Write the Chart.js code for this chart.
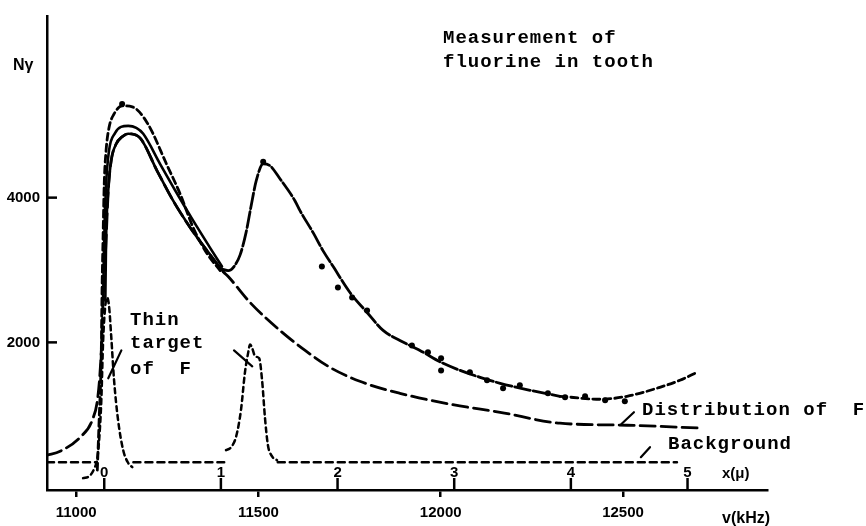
<!DOCTYPE html>
<html>
<head>
<meta charset="utf-8">
<script src="https://cdn.jsdelivr.net/npm/chart.js@4.4.1/dist/chart.umd.min.js"></script>
<style>
html,body{margin:0;padding:0;background:#fff;}
canvas{display:block;}
</style>
</head>
<body>
<canvas id="c" width="866" height="526"></canvas>
<script>
// ---- tick values ----
const xTickValues = [11000, 11500, 12000, 12500];
const yTickValues = [2000, 4000];
const muTickValues = [0, 1, 2, 3, 4, 5];
const muOriginKHz = 11077;
const muStepKHz = 320;

// ---- series (x in kHz, y in Nγ counts) ----
const distFX = [10920, 10956, 11011, 11044, 11060, 11069, 11074, 11082, 11088, 11096, 11110, 11126, 11143, 11175, 11222, 11266, 11313, 11359, 11403, 11417, 11477, 11559, 11628, 11696, 11778, 11888, 12026, 12163, 12327, 12511, 12719];
const distFY = [441, 496, 690, 924, 1269, 1889, 2579, 3406, 4096, 4509, 4744, 4840, 4882, 4826, 4371, 3958, 3585, 3268, 2979, 2910, 2551, 2165, 1889, 1655, 1462, 1296, 1145, 1034, 883, 855, 814];

const envelopeX = [11058, 11063, 11069, 11071, 11074, 11077, 11082, 11090, 11104, 11126, 11154, 11195, 11250, 11285, 11321, 11359, 11395];
const envelopeY = [234, 924, 1889, 2717, 3503, 4192, 4647, 4964, 5157, 5268, 5254, 5033, 4440, 4054, 3585, 3227, 2992];

const fitAX = [11074, 11077, 11082, 11090, 11107, 11123, 11143, 11165, 11184, 11230, 11277, 11321, 11367, 11400];
const fitAY = [2579, 3406, 4165, 4647, 4895, 4978, 4992, 4964, 4882, 4468, 4054, 3682, 3310, 3048];

const fitBX = [11080, 11082, 11088, 11096, 11110, 11126, 11143, 11175, 11222, 11266, 11313, 11359, 11403];
const fitBY = [2579, 3406, 4096, 4509, 4744, 4840, 4882, 4826, 4371, 3958, 3585, 3268, 2979];

const measuredX = [11395, 11417, 11433, 11450, 11466, 11480, 11494, 11513, 11532, 11559, 11600, 11614, 11650, 11677, 11705, 11751, 11798, 11842, 11888, 11943, 12001, 12053, 12108, 12163, 12245, 12327];
const measuredY = [3020, 2992, 3048, 3213, 3516, 3889, 4234, 4468, 4440, 4261, 3958, 3820, 3516, 3268, 3048, 2689, 2413, 2165, 2027, 1889, 1724, 1613, 1517, 1434, 1338, 1255];

const tailX = [12327, 12437, 12511, 12601, 12656, 12703];
const tailY = [1255, 1214, 1255, 1379, 1476, 1586];

const dotsX = [11126, 11513, 11674, 11718, 11757, 11798, 11921, 11965, 12001, 12001, 12080, 12127, 12171, 12217, 12294, 12341, 12396, 12451, 12505];
const dotsY = [5295, 4496, 3048, 2758, 2620, 2441, 1958, 1862, 1779, 1613, 1586, 1476, 1365, 1407, 1296, 1241, 1255, 1200, 1186];

const thinX = [11019, 11036, 11049, 11058, 11063, 11069, 11074, 11080, 11085, 11090, 11096, 11104, 11115, 11129, 11143, 11154, 11280, 11411, 11425, 11439, 11452, 11463, 11472, 11477, 11483, 11491, 11502, 11510, 11518, 11526, 11537, 11551];
const thinY = [124, 152, 248, 400, 648, 1200, 2027, 2510, 2620, 2510, 2096, 1476, 924, 510, 331, 276, null, 510, 552, 703, 1062, 1586, 1862, 1972, 1917, 1806, 1779, 1476, 952, 579, 427, 372];

const bgX = [10920, 11057, 11090, 11157, 11406, 11480, 11553, 12648];
const bgY = [345, 345, null, 345, 345, null, 345, 345];

const leaderX = [11088, 11124, 11300, 11433, 11483, 12000, 12495, 12530, 12540, 12549, 12574];
const leaderY = [1503, 1889, null, 1889, 1669, null, 869, 1034, null, 414, 552];

// ---- texts ----
const titleLines = ["Measurement of", "fluorine in tooth"];
const thinLabel = ["Thin", "target", "of  F"];
const distLabel = "Distribution of  F";
const bgLabel = "Background";
const yTitle = "Nγ";
const xTitle = "v(kHz)";
const muTitle = "x(μ)";

const pts = (xs, ys) => xs.map((x, i) => ({x: x, y: ys[i]}));

const TYPE = "bold 19px 'Liberation Mono', 'DejaVu Sans Mono', monospace";
const SANS = "'Liberation Sans', 'DejaVu Sans', sans-serif";

const line = (label, xs, ys, dash, width, extra) => Object.assign({
  label: label, data: pts(xs, ys), showLine: true, borderColor: '#000', backgroundColor: '#000',
  borderWidth: width, borderDash: dash, pointRadius: 0, fill: false,
  cubicInterpolationMode: 'monotone', spanGaps: false, borderCapStyle: 'round'
}, extra || {});

const overlay = {
  id: 'overlay',
  afterDraw(chart) {
    const ctx = chart.ctx;
    const xs = chart.scales.x, ys = chart.scales.y;
    const area = chart.chartArea;
    ctx.save();
    ctx.fillStyle = '#000';
    ctx.strokeStyle = '#000';
    // inward y ticks
    ctx.lineWidth = 2.5;
    yTickValues.forEach(v => {
      const py = ys.getPixelForValue(v);
      ctx.beginPath(); ctx.moveTo(area.left, py); ctx.lineTo(area.left + 10, py); ctx.stroke();
    });
    // micron scale ticks
    ctx.font = "bold 15px " + SANS;
    ctx.textAlign = 'center';
    ctx.textBaseline = 'alphabetic';
    muTickValues.forEach(m => {
      const px = xs.getPixelForValue(muOriginKHz + m * muStepKHz);
      ctx.beginPath(); ctx.moveTo(px, area.bottom); ctx.lineTo(px, area.bottom - 12); ctx.stroke();
      ctx.fillText(String(m), px, area.bottom - 13);
    });
    ctx.textAlign = 'left';
    ctx.fillText(muTitle, 722, 478);
    ctx.font = "bold 16px " + SANS;
    ctx.fillText(xTitle, 722, 523);
    ctx.fillText(yTitle, 13, 70);
    // typewriter annotations
    ctx.font = TYPE;
    if ('letterSpacing' in ctx) ctx.letterSpacing = '1px';
    ctx.fillText(titleLines[0], 443, 43);
    ctx.fillText(titleLines[1], 443, 67);
    ctx.fillText(thinLabel[0], 130, 325);
    ctx.fillText(thinLabel[1], 130, 348);
    ctx.fillText(thinLabel[2], 130, 374);
    ctx.fillText(distLabel, 642, 415);
    ctx.fillText(bgLabel, 668, 449);
    ctx.restore();
  }
};

new Chart(document.getElementById('c'), {
  type: 'scatter',
  data: {
    datasets: [
      line('Background', bgX, bgY, [7, 5], 2.5, {cubicInterpolationMode: 'default', tension: 0}),
      line('Thin target of F', thinX, thinY, [5, 4], 2.5),
      line('Distribution of F', distFX, distFY, [15, 6], 2.8),
      line('Envelope', envelopeX, envelopeY, [7, 4], 2.8),
      line('Fit A', fitAX, fitAY, [], 2.6),
      line('Fit B', fitBX, fitBY, [], 2.6),
      line('Measurement', measuredX, measuredY, [16, 3], 2.8),
      line('Measurement tail', tailX, tailY, [7, 4], 2.8),
      line('Leaders', leaderX, leaderY, [], 2.2, {cubicInterpolationMode: 'default', tension: 0}),
      {label: 'Data points', data: pts(dotsX, dotsY), showLine: false, pointRadius: 3, pointBackgroundColor: '#000', pointBorderWidth: 0, backgroundColor: '#000', borderColor: '#000'}
    ]
  },
  options: {
    responsive: false,
    animation: false,
    devicePixelRatio: 1,
    layout: {padding: {top: 0, right: 99, left: 0, bottom: 0}},
    plugins: {legend: {display: false}, tooltip: {enabled: false}, title: {display: false}},
    scales: {
      x: {
        type: 'linear', min: 10920, max: 12895,
        afterBuildTicks: s => { s.ticks = xTickValues.map(v => ({value: v})); },
        afterFit: s => { s.height = 36; },
        border: {display: true, color: '#000', width: 2.5},
        grid: {display: true, drawOnChartArea: false, drawTicks: true, tickLength: 7, color: '#000', lineWidth: 2.5},
        ticks: {color: '#000', padding: 7, maxRotation: 0, font: {family: SANS, size: 15, weight: 'bold'}, callback: v => String(v)}
      },
      y: {
        type: 'linear', min: -40, max: 6510,
        afterBuildTicks: s => { s.ticks = yTickValues.map(v => ({value: v})); },
        afterFit: s => { s.width = 47; },
        border: {display: true, color: '#000', width: 2.5},
        grid: {display: false, drawTicks: false},
        ticks: {color: '#000', padding: 7, font: {family: SANS, size: 15, weight: 'bold'}, callback: v => String(v)}
      }
    }
  },
  plugins: [overlay]
});
</script>
</body>
</html>
